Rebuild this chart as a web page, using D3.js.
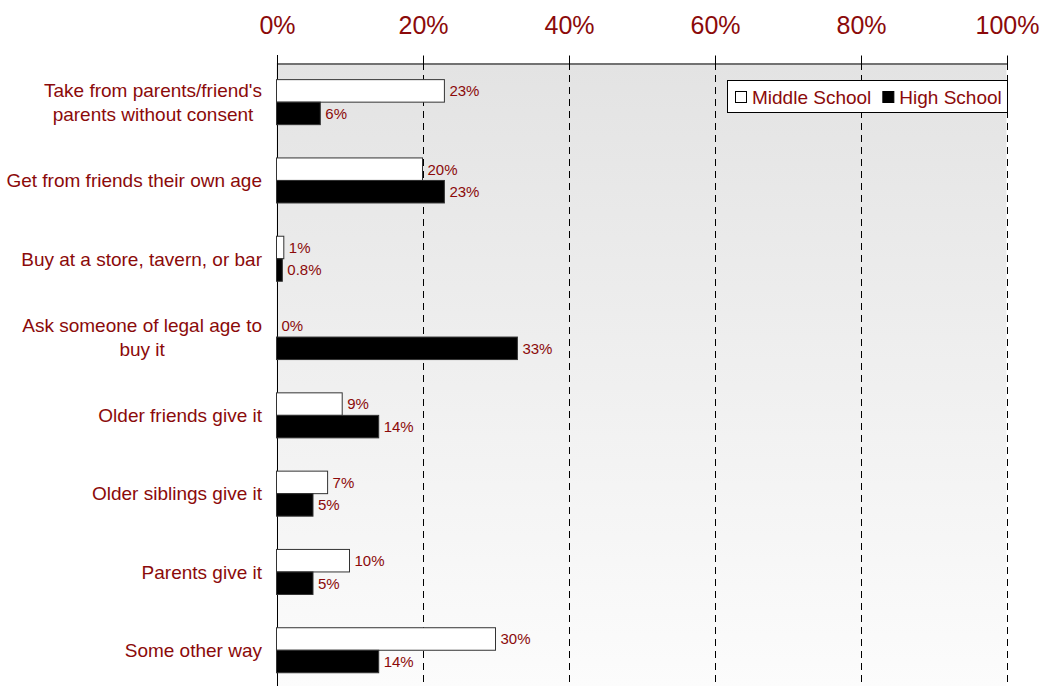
<!DOCTYPE html>
<html>
<head>
<meta charset="utf-8">
<script src="https://cdn.jsdelivr.net/npm/d3@7"></script>
<style>
  html, body { margin: 0; padding: 0; background: #fff; }
  svg { display: block; font-family: "Liberation Sans", Arial, sans-serif; }
</style>
</head>
<body>
<svg id="chart" width="1045" height="686"></svg>
<script>
// Where students get alcohol, by school level (percent of respondents)
const categories = [
  ["Take from parents/friend's", "parents without consent"],
  ["Get from friends their own age"],
  ["Buy at a store, tavern, or bar"],
  ["Ask someone of legal age to", "buy it"],
  ["Older friends give it"],
  ["Older siblings give it"],
  ["Parents give it"],
  ["Some other way"]
];
const seriesNames = ["Middle School", "High School"];
const middleSchool = [23, 20, 1, 0, 9, 7, 10, 30];
const highSchool = [6, 23, 0.8, 33, 14, 5, 5, 14];
const valueLabelsMiddle = ["23%", "20%", "1%", "0%", "9%", "7%", "10%", "30%"];
const valueLabelsHigh = ["6%", "23%", "0.8%", "33%", "14%", "5%", "5%", "14%"];
const tickValues = [0, 20, 40, 60, 80, 100];

const textColor = "#8b0a0a";
const seriesFill = ["#ffffff", "#000000"];

const svg = d3.select("#chart");
const W = 1045, H = 686;
const plotLeft = 276.5, plotRight = 1006.5, plotTop = 63;
const step = 78.3;
const plotBottom = plotTop + step * categories.length;

const x = d3.scaleLinear().domain([0, 100]).range([plotLeft, plotRight]);
const y = d3.scaleBand()
  .domain(d3.range(categories.length))
  .range([plotTop, plotBottom])
  .paddingInner(0.425)
  .paddingOuter(0.2125);
const ySub = d3.scaleBand().domain([0, 1]).range([0, y.bandwidth()]);

// Plot-area gradient background
const defs = svg.append("defs");
const grad = defs.append("linearGradient")
  .attr("id", "bg").attr("x1", 0).attr("y1", 0).attr("x2", 0).attr("y2", 1);
grad.append("stop").attr("offset", "0%").attr("stop-color", "#e3e3e3");
grad.append("stop").attr("offset", "100%").attr("stop-color", "#fcfcfc");

svg.append("rect")
  .attr("x", plotLeft).attr("y", plotTop)
  .attr("width", plotRight - plotLeft).attr("height", H - plotTop)
  .attr("fill", "url(#bg)");

// Dashed vertical gridlines
svg.append("g").selectAll("line")
  .data(tickValues.filter(d => d > 0))
  .join("line")
  .attr("x1", d => Math.round(x(d)) + 0.5).attr("x2", d => Math.round(x(d)) + 0.5)
  .attr("y1", plotTop).attr("y2", H)
  .attr("stroke", "#000").attr("stroke-width", 1)
  .attr("stroke-dasharray", "7,5");

// Top axis
const axis = d3.axisTop(x)
  .tickValues(tickValues)
  .tickFormat(d => d + "%")
  .tickSize(8)
  .tickSizeOuter(0);
const gAxis = svg.append("g")
  .attr("transform", `translate(0.5,${plotTop + 0.5})`)
  .call(axis);
gAxis.select(".domain").attr("stroke", "#000");
gAxis.selectAll(".tick line").attr("stroke", "#000");
gAxis.selectAll(".tick text")
  .attr("fill", textColor)
  .attr("font-size", 25)
  .attr("font-family", "'Liberation Sans', Arial, sans-serif")
  .attr("y", -30)
  .attr("dy", 0);

// Left axis line
svg.append("line")
  .attr("x1", Math.round(plotLeft) + 0.5).attr("x2", Math.round(plotLeft) + 0.5)
  .attr("y1", plotTop - 8).attr("y2", H)
  .attr("stroke", "#000");

// Bars
const seriesData = [middleSchool, highSchool];
const labelData = [valueLabelsMiddle, valueLabelsHigh];
const barsG = svg.append("g");
seriesData.forEach((vals, s) => {
  barsG.append("g").selectAll("rect")
    .data(vals)
    .join("rect")
    .attr("x", x(0))
    .attr("y", (d, i) => y(i) + ySub(s))
    .attr("width", d => x(d) - x(0))
    .attr("height", ySub.bandwidth())
    .attr("fill", seriesFill[s])
    .attr("stroke", d => d > 0 ? "#333" : "none")
    .attr("stroke-width", 1);

  barsG.append("g").selectAll("text")
    .data(vals)
    .join("text")
    .attr("x", d => x(d) + 5)
    .attr("y", (d, i) => y(i) + ySub(s) + ySub.bandwidth() / 2)
    .attr("dy", "0.36em")
    .attr("fill", textColor)
    .attr("font-size", 15)
    .text((d, i) => labelData[s][i]);
});

// Category labels: block right-aligned, lines centred within the block
const catG = svg.append("g");
categories.forEach((lines, i) => {
  const g = catG.append("g");
  const lineH = 24;
  const cy = y(i) + y.bandwidth() / 2;
  const texts = lines.map((t, k) => g.append("text")
    .attr("y", cy + (k - (lines.length - 1) / 2) * lineH)
    .attr("dy", "0.36em")
    .attr("fill", textColor)
    .attr("font-size", 19)
    .attr("text-anchor", "middle")
    .text(t));
  const widths = texts.map(t => t.node().getComputedTextLength());
  const maxW = d3.max(widths);
  const centre = 262 - maxW / 2;
  texts.forEach(t => t.attr("x", centre));
});

// Legend
const lg = svg.append("g");
lg.append("rect")
  .attr("x", 727.5).attr("y", 80.5)
  .attr("width", 280).attr("height", 32)
  .attr("fill", "#fff").attr("stroke", "#000");
let lx = 735;
seriesNames.forEach((name, s) => {
  lg.append("rect")
    .attr("x", lx + 0.5).attr("y", 91.5)
    .attr("width", 11).attr("height", 11)
    .attr("fill", seriesFill[s]).attr("stroke", "#000");
  const t = lg.append("text")
    .attr("x", lx + 17).attr("y", 97)
    .attr("dy", "0.36em")
    .attr("fill", textColor)
    .attr("font-size", 19)
    .text(name);
  lx += 17 + t.node().getComputedTextLength() + 11;
});
</script>
</body>
</html>
